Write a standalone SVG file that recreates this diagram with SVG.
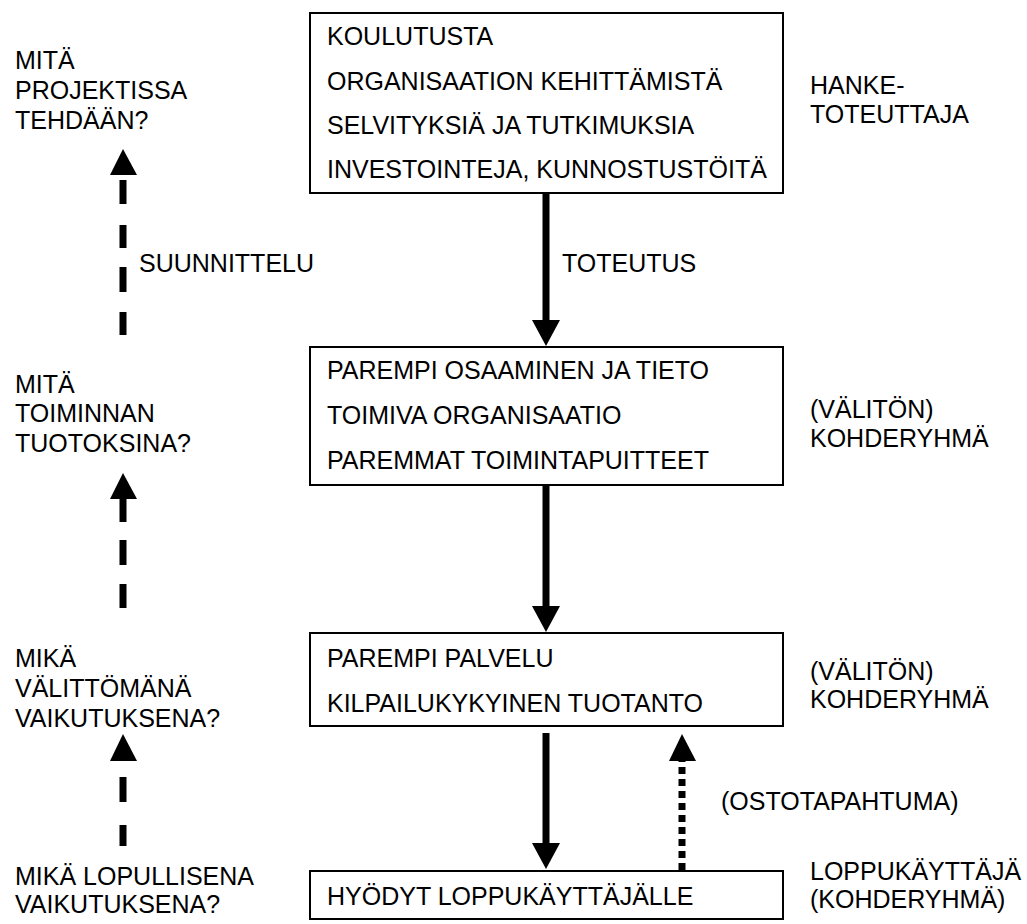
<svg xmlns="http://www.w3.org/2000/svg" width="1027" height="924" viewBox="0 0 1027 924">
<style>
text{font-family:"Liberation Sans",Arial,sans-serif;fill:#000}
.bt{font-size:25px}
.st{font-size:25px}
.box{fill:#fff;stroke:#000;stroke-width:2}
.solid{stroke:#000;stroke-width:7;fill:none}
.dash{stroke:#000;stroke-width:7;fill:none}
.dot{stroke:#000;stroke-width:7;fill:none;stroke-dasharray:7 5}
.head{fill:#000}
</style>
<rect width="1027" height="924" fill="#fff"/>
<g id="connectors">
<path class="solid" d="M546 193 L546 322"/>
<polygon class="head" points="532,320 560,320 546,346"/>
<path class="solid" d="M546 485 L546 608"/>
<polygon class="head" points="532,606 560,606 546,632"/>
<path class="solid" d="M546 733 L546 845"/>
<polygon class="head" points="532,843 560,843 546,869"/>
<path class="dot" d="M682 870 L682 761"/>
<polygon class="head" points="669,761 696,761 682,734"/>
<path class="dash" d="M123 335 L123 312 M123 292 L123 267 M123 248 L123 225 M123 204 L123 180"/>
<polygon class="head" points="110,175 137,175 123,149"/>
<path class="dash" d="M123 608 L123 584 M123 565 L123 540 M123 522 L123 497"/>
<polygon class="head" points="110,499 137,499 123,473"/>
<path class="dash" d="M123 846 L123 825 M123 802 L123 777"/>
<polygon class="head" points="110,761 137,761 123,734"/>
<text class="st" x="139" y="272">SUUNNITTELU</text>
<text class="st" x="562" y="272">TOTEUTUS</text>
<text class="st" x="721" y="810">(OSTOTAPAHTUMA)</text>
</g>
<g id="node-activities">
<rect class="box" x="310" y="13" width="473" height="180"/>
<text class="bt" x="327" y="45">KOULUTUSTA</text>
<text class="bt" x="327" y="90">ORGANISAATION KEHITTÄMISTÄ</text>
<text class="bt" x="327" y="134">SELVITYKSIÄ JA TUTKIMUKSIA</text>
<text class="bt" x="327" y="178">INVESTOINTEJA, KUNNOSTUSTÖITÄ</text>
</g>
<g id="node-outputs">
<rect class="box" x="310" y="347" width="473" height="138"/>
<text class="bt" x="327" y="379">PAREMPI OSAAMINEN JA TIETO</text>
<text class="bt" x="327" y="424">TOIMIVA ORGANISAATIO</text>
<text class="bt" x="327" y="469">PAREMMAT TOIMINTAPUITTEET</text>
</g>
<g id="node-results">
<rect class="box" x="310" y="633" width="473" height="93"/>
<text class="bt" x="327" y="667">PAREMPI PALVELU</text>
<text class="bt" x="327" y="712">KILPAILUKYKYINEN TUOTANTO</text>
</g>
<g id="node-impacts">
<rect class="box" x="310" y="871" width="473" height="48"/>
<text class="bt" x="327" y="905">HYÖDYT LOPPUKÄYTTÄJÄLLE</text>
</g>
<g id="left-labels">
<text class="st" x="15" y="69">MITÄ</text>
<text class="st" x="15" y="99">PROJEKTISSA</text>
<text class="st" x="15" y="129">TEHDÄÄN?</text>
<text class="st" x="15" y="393">MITÄ</text>
<text class="st" x="15" y="422">TOIMINNAN</text>
<text class="st" x="15" y="452">TUOTOKSINA?</text>
<text class="st" x="15" y="667">MIKÄ</text>
<text class="st" x="15" y="697">VÄLITTÖMÄNÄ</text>
<text class="st" x="15" y="727">VAIKUTUKSENA?</text>
<text class="st" x="15" y="885">MIKÄ LOPULLISENA</text>
<text class="st" x="15" y="913">VAIKUTUKSENA?</text>
</g>
<g id="right-labels">
<text class="st" x="810" y="94">HANKE-</text>
<text class="st" x="810" y="123">TOTEUTTAJA</text>
<text class="st" x="810" y="418">(VÄLITÖN)</text>
<text class="st" x="810" y="447">KOHDERYHMÄ</text>
<text class="st" x="810" y="680">(VÄLITÖN)</text>
<text class="st" x="810" y="708">KOHDERYHMÄ</text>
<text class="st" x="810" y="880">LOPPUKÄYTTÄJÄ</text>
<text class="st" x="810" y="908">(KOHDERYHMÄ)</text>
</g>
</svg>
